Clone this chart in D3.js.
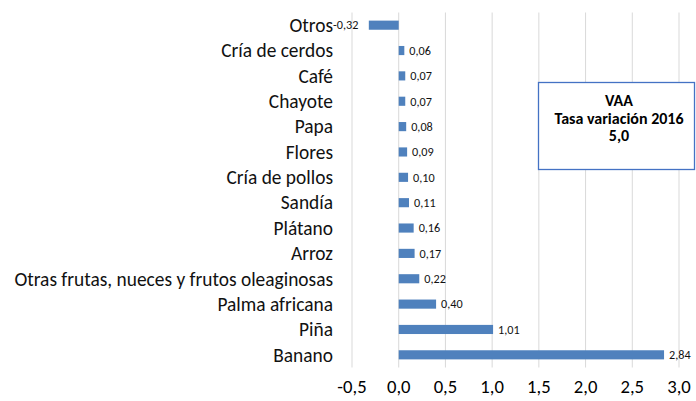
<!DOCTYPE html>
<html>
<head>
<meta charset="utf-8">
<script src="https://cdn.jsdelivr.net/npm/d3@7"></script>
<style>
  body { margin: 0; background: #fff; }
  svg { font-family: Carlito, "Open Sans", "Liberation Sans", sans-serif; }
</style>
</head>
<body>
<div id="viz1"></div>
<script>
// chart values
var categories = ['Otros', 'Cría de cerdos', 'Café', 'Chayote', 'Papa', 'Flores', 'Cría de pollos',
  'Sandía', 'Plátano', 'Arroz', 'Otras frutas, nueces y frutos oleaginosas', 'Palma africana', 'Piña', 'Banano'];
var values = [-0.32, 0.06, 0.07, 0.07, 0.08, 0.09, 0.10, 0.11, 0.16, 0.17, 0.22, 0.40, 1.01, 2.84];
var tickValues = [-0.5, 0, 0.5, 1, 1.5, 2, 2.5, 3];
var boxLines = ['VAA', 'Tasa variación 2016', '5,0'];

var width = 696, height = 401;
var margin = {top: 12.5, right: 17, bottom: 33.5, left: 352};

var fmt = function (d, n) { return d.toFixed(n).replace('.', ','); };

var data = categories.map(function (c, i) { return {name: c, value: values[i]}; });

const svg = d3.select("#viz1")
  .append("svg")
  .attr("width", width)
  .attr("height", height);

var x = d3.scaleLinear().domain([-0.5, 3]).range([margin.left, width - margin.right]);
var y = d3.scaleBand().domain(categories).range([margin.top, height - margin.bottom]).paddingInner(0.64).paddingOuter(0.32);

// gridlines
svg.append("g")
  .selectAll("line")
  .data(tickValues)
  .join("line")
  .attr("x1", d => x(d)).attr("x2", d => x(d))
  .attr("y1", margin.top).attr("y2", height - margin.bottom)
  .attr("stroke", "#d9d9d9")
  .attr("stroke-width", 1);

// x axis tick labels
svg.append("g")
  .selectAll("text")
  .data(tickValues)
  .join("text")
  .attr("x", d => x(d))
  .attr("y", 393)
  .attr("text-anchor", "middle")
  .attr("font-size", 18.67)
  .attr("fill", "#000")
  .text(d => fmt(d, 1));

// bars
svg.append("g")
  .selectAll("rect")
  .data(data)
  .join("rect")
  .attr("x", d => x(Math.min(0, d.value)))
  .attr("y", d => y(d.name))
  .attr("width", d => Math.abs(x(d.value) - x(0)))
  .attr("height", y.bandwidth())
  .attr("fill", "#4f81bd");

// category labels
svg.append("g")
  .selectAll("text")
  .data(data)
  .join("text")
  .attr("x", 333)
  .attr("y", d => y(d.name) + y.bandwidth() / 2)
  .attr("dy", "0.35em")
  .attr("text-anchor", "end")
  .attr("font-size", 19.4)
  .attr("fill", "#111")
  .text(d => d.name);

// value labels
svg.append("g")
  .selectAll("text")
  .data(data)
  .join("text")
  .attr("x", d => d.value < 0 ? 333 : x(d.value) + 5)
  .attr("y", d => y(d.name) + y.bandwidth() / 2)
  .attr("dy", "0.35em")
  .attr("text-anchor", "start")
  .attr("font-size", 12.2)
  .attr("fill", "#111")
  .text(d => fmt(d.value, 2));

// annotation box
var box = svg.append("g");
box.append("rect")
  .attr("x", 538.5).attr("y", 82.5)
  .attr("width", 156).attr("height", 87)
  .attr("fill", "#fff")
  .attr("stroke", "#4472c4")
  .attr("stroke-width", 1.3);
box.selectAll("text")
  .data(boxLines)
  .join("text")
  .attr("x", 619)
  .attr("y", (d, i) => 106 + i * 17.5)
  .attr("text-anchor", "middle")
  .attr("font-size", 16)
  .attr("font-weight", "bold")
  .attr("fill", "#000")
  .text(d => d);
</script>
</body>
</html>
